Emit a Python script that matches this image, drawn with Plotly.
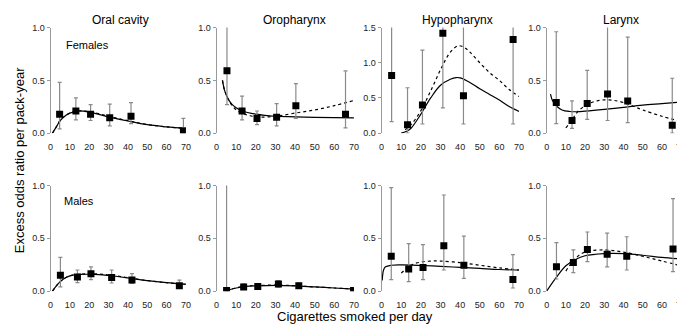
import plotly.graph_objects as go

W, H = 685, 324
sites = ["Oral cavity", "Oropharynx", "Hypopharynx", "Larynx"]
x_ticks = [0, 10, 20, 30, 40, 50, 60, 70]

# ---------------- Females ----------------
oral_f_x = [4.7, 13.1, 20.7, 30.6, 41.6, 68.7]
oral_f_y = [0.18, 0.21, 0.18, 0.145, 0.16, 0.02]
oral_f_lo = [0.04, 0.125, 0.12, 0.07, 0.09, 0.0]
oral_f_hi = [0.48, 0.335, 0.27, 0.275, 0.29, 0.14]
oral_f_fit_x = [1, 3, 5, 8, 10, 14, 20, 30, 40, 50, 60, 70]
oral_f_fit_y = [0.0, 0.06, 0.12, 0.17, 0.19, 0.21, 0.2, 0.155, 0.115, 0.08, 0.06, 0.045]
oral_f_alt_x = [1, 3, 5, 8, 10, 14, 20, 30, 40, 50, 60, 70]
oral_f_alt_y = [0.0, 0.06, 0.12, 0.17, 0.19, 0.21, 0.205, 0.16, 0.118, 0.082, 0.06, 0.045]

oro_f_x = [5.3, 13.0, 20.6, 30.6, 40.4, 65.7]
oro_f_y = [0.59, 0.21, 0.14, 0.15, 0.26, 0.18]
oro_f_lo = [0.27, 0.125, 0.08, 0.07, 0.14, 0.05]
oro_f_hi = [1.2, 0.35, 0.21, 0.28, 0.47, 0.59]
oro_f_fit_x = [3, 4, 5, 6, 8, 10, 13, 20, 30, 40, 50, 60, 70]
oro_f_fit_y = [0.5, 0.41, 0.36, 0.32, 0.27, 0.24, 0.21, 0.18, 0.16, 0.155, 0.15, 0.147, 0.145]
oro_f_alt_x = [3, 4, 5, 6, 8, 10, 13, 17, 22, 30, 40, 50, 60, 70]
oro_f_alt_y = [0.5, 0.41, 0.36, 0.32, 0.26, 0.22, 0.19, 0.165, 0.152, 0.16, 0.19, 0.22, 0.26, 0.31]

hypo_f_x = [5.1, 13.2, 20.8, 31.2, 41.7, 67.0]
hypo_f_y = [0.82, 0.12, 0.40, 1.42, 0.53, 1.33]
hypo_f_lo = [0.165, 0.0, 0.13, 0.36, 0.13, 0.13]
hypo_f_hi = [1.7, 0.645, 1.18, 1.7, 1.7, 1.7]
hypo_f_fit_x = [10, 13, 15, 20, 25, 30, 35, 38, 40, 45, 50, 55, 60, 65, 70]
hypo_f_fit_y = [0.0, 0.03, 0.07, 0.27, 0.5, 0.68, 0.765, 0.79, 0.785, 0.72, 0.63, 0.55, 0.47, 0.38, 0.31]
hypo_f_alt_x = [12, 15, 20, 25, 30, 35, 39, 42, 45, 50, 55, 60, 65, 70]
hypo_f_alt_y = [0.05, 0.12, 0.32, 0.6, 0.9, 1.15, 1.24, 1.22, 1.15, 1.0, 0.86, 0.75, 0.62, 0.52]

lar_f_x = [5.0, 13.2, 21.1, 31.7, 42.2, 65.4]
lar_f_y = [0.29, 0.12, 0.28, 0.37, 0.305, 0.075]
lar_f_lo = [0.09, 0.045, 0.13, 0.12, 0.10, 0.0]
lar_f_hi = [0.96, 0.305, 0.595, 1.2, 0.91, 0.52]
lar_f_fit_x = [2, 3, 5, 8, 12, 16, 20, 30, 40, 50, 60, 70]
lar_f_fit_y = [0.37, 0.31, 0.26, 0.22, 0.205, 0.203, 0.208, 0.225, 0.245, 0.265, 0.28, 0.295]
lar_f_alt_x = [10, 13, 16, 20, 25, 30, 35, 40, 45, 50, 60, 70]
lar_f_alt_y = [0.05, 0.12, 0.2, 0.26, 0.3, 0.315, 0.31, 0.29, 0.255, 0.22, 0.16, 0.11]

# ---------------- Males ----------------
oral_m_x = [5.1, 13.9, 20.9, 31.6, 42.1, 66.6]
oral_m_y = [0.15, 0.135, 0.165, 0.13, 0.105, 0.052]
oral_m_lo = [0.04, 0.08, 0.11, 0.077, 0.074, 0.03]
oral_m_hi = [0.32, 0.2, 0.23, 0.2, 0.166, 0.105]
oral_m_fit_x = [1, 3, 5, 8, 10, 15, 20, 25, 30, 40, 50, 60, 70]
oral_m_fit_y = [0.0, 0.05, 0.09, 0.13, 0.145, 0.158, 0.16, 0.157, 0.148, 0.125, 0.1, 0.08, 0.065]
oral_m_alt_x = [1, 3, 5, 8, 10, 15, 20, 25, 30, 40, 50, 60, 70]
oral_m_alt_y = [0.0, 0.05, 0.09, 0.13, 0.145, 0.16, 0.165, 0.162, 0.153, 0.128, 0.1, 0.08, 0.065]

oro_m_x = [5.1, 13.8, 21.0, 31.5, 41.9, 69.8]
oro_m_y = [0.005, 0.04, 0.045, 0.068, 0.052, 0.006]
oro_m_lo = [0.0, 0.02, 0.03, 0.037, 0.03, 0.0]
oro_m_hi = [1.2, 0.07, 0.06, 0.1, 0.077, 0.01]
oro_m_fit_x = [5, 10, 15, 20, 30, 40, 50, 60, 70]
oro_m_fit_y = [0.005, 0.03, 0.045, 0.05, 0.055, 0.05, 0.04, 0.03, 0.02]
oro_m_alt_x = [5, 10, 15, 20, 30, 40, 50, 60, 70]
oro_m_alt_y = [0.005, 0.032, 0.047, 0.052, 0.057, 0.051, 0.04, 0.03, 0.02]

hypo_m_x = [4.9, 13.8, 21.1, 31.7, 41.9, 66.9]
hypo_m_y = [0.33, 0.21, 0.225, 0.43, 0.245, 0.11]
hypo_m_lo = [0.11, 0.09, 0.11, 0.2, 0.12, 0.03]
hypo_m_hi = [0.98, 0.45, 0.44, 0.91, 0.52, 0.345]
hypo_m_fit_x = [0.3, 1, 2, 5, 10, 20, 30, 40, 50, 60, 70]
hypo_m_fit_y = [0.1, 0.2, 0.23, 0.245, 0.248, 0.243, 0.235, 0.225, 0.215, 0.205, 0.2]
hypo_m_alt_x = [10, 13, 16, 20, 25, 30, 40, 50, 60, 70]
hypo_m_alt_y = [0.17, 0.22, 0.255, 0.275, 0.285, 0.285, 0.27, 0.245, 0.22, 0.2]

lar_m_x = [5.1, 13.9, 21.2, 31.5, 41.7, 65.8]
lar_m_y = [0.23, 0.27, 0.395, 0.35, 0.33, 0.40]
lar_m_lo = [0.115, 0.175, 0.28, 0.23, 0.2, 0.185]
lar_m_hi = [0.46, 0.39, 0.56, 0.55, 0.515, 0.875]
lar_m_fit_x = [0, 5, 10, 15, 20, 30, 40, 50, 60, 70]
lar_m_fit_y = [0.0, 0.13, 0.24, 0.3, 0.335, 0.355, 0.355, 0.34, 0.32, 0.305]
lar_m_alt_x = [10, 15, 20, 30, 40, 50, 60, 70]
lar_m_alt_y = [0.19, 0.31, 0.37, 0.39, 0.37, 0.33, 0.285, 0.24]

panels = [
    (0, 0, oral_f_x, oral_f_y, oral_f_lo, oral_f_hi, oral_f_fit_x, oral_f_fit_y, oral_f_alt_x, oral_f_alt_y),
    (0, 1, oro_f_x, oro_f_y, oro_f_lo, oro_f_hi, oro_f_fit_x, oro_f_fit_y, oro_f_alt_x, oro_f_alt_y),
    (0, 2, hypo_f_x, hypo_f_y, hypo_f_lo, hypo_f_hi, hypo_f_fit_x, hypo_f_fit_y, hypo_f_alt_x, hypo_f_alt_y),
    (0, 3, lar_f_x, lar_f_y, lar_f_lo, lar_f_hi, lar_f_fit_x, lar_f_fit_y, lar_f_alt_x, lar_f_alt_y),
    (1, 0, oral_m_x, oral_m_y, oral_m_lo, oral_m_hi, oral_m_fit_x, oral_m_fit_y, oral_m_alt_x, oral_m_alt_y),
    (1, 1, oro_m_x, oro_m_y, oro_m_lo, oro_m_hi, oro_m_fit_x, oro_m_fit_y, oro_m_alt_x, oro_m_alt_y),
    (1, 2, hypo_m_x, hypo_m_y, hypo_m_lo, hypo_m_hi, hypo_m_fit_x, hypo_m_fit_y, hypo_m_alt_x, hypo_m_alt_y),
    (1, 3, lar_m_x, lar_m_y, lar_m_lo, lar_m_hi, lar_m_fit_x, lar_m_fit_y, lar_m_alt_x, lar_m_alt_y),
]

# pixel layout
col_px = [(40, 177), (208, 347), (375, 514), (542, 678)]
row_px = [(15, 124), (178, 287)]

FONT = "Liberation Sans, Arial, sans-serif"
fig = go.Figure()
layout = {}

for (r, c, px, py, lo, hi, fx, fy, ax, ay) in panels:
    idx = r * 4 + c + 1
    xa = "x" if idx == 1 else f"x{idx}"
    ya = "y" if idx == 1 else f"y{idx}"
    fig.add_trace(go.Scatter(x=ax, y=ay, mode="lines", line=dict(color="black", width=1.2, dash="3px,3px", shape="spline"),
                             xaxis=xa, yaxis=ya, showlegend=False, hoverinfo="skip"))
    fig.add_trace(go.Scatter(x=fx, y=fy, mode="lines", line=dict(color="black", width=1.2, shape="spline"),
                             xaxis=xa, yaxis=ya, showlegend=False, hoverinfo="skip"))
    fig.add_trace(go.Scatter(
        x=px, y=py, mode="markers",
        marker=dict(symbol="square", size=7, color="black"),
        error_y=dict(type="data", symmetric=False,
                     array=[h - v for h, v in zip(hi, py)],
                     arrayminus=[v - l for v, l in zip(py, lo)],
                     color="#8a8a8a", thickness=1.2, width=2),
        xaxis=xa, yaxis=ya, showlegend=False))
    x0, x1 = col_px[c]
    y0, y1 = row_px[r]
    ymax = 1.5 if (r == 0 and c == 2) else 1.0
    layout["xaxis" if idx == 1 else f"xaxis{idx}"] = dict(
        domain=[x0 / W, x1 / W], anchor=ya, range=[0, 70], tickvals=x_ticks,
        showline=False, showgrid=False, zeroline=False, ticks="outside", ticklen=5,
        tickcolor="rgba(0,0,0,0)", tickfont=dict(size=9, color="#222", family=FONT))
    layout["yaxis" if idx == 1 else f"yaxis{idx}"] = dict(
        domain=[1 - y1 / H, 1 - y0 / H], anchor=xa, range=[0, ymax], dtick=0.5, tickformat=".1f",
        showline=True, linecolor="#9a9a9a", linewidth=1, showgrid=False, zeroline=False,
        ticks="outside", ticklen=3, tickcolor="#9a9a9a",
        tickfont=dict(size=9, color="#222", family=FONT))

annotations = []
title_x = [111, 287, 452, 617]
for name, tx in zip(sites, title_x):
    annotations.append(dict(text=name, x=tx / W, y=1 - 7 / H, xref="paper", yref="paper",
                            xanchor="center", yanchor="middle",
                            showarrow=False, font=dict(size=12, color="black", family=FONT)))
annotations.append(dict(text="Females", x=77 / W, y=1 - 33 / H, xref="paper", yref="paper",
                        xanchor="center", yanchor="middle",
                        showarrow=False, font=dict(size=11, color="black", family=FONT)))
annotations.append(dict(text="Males", x=69 / W, y=1 - 194 / H, xref="paper", yref="paper",
                        xanchor="center", yanchor="middle",
                        showarrow=False, font=dict(size=11, color="black", family=FONT)))
annotations.append(dict(text="Cigarettes smoked per day", x=348 / W, y=1 - 313 / H, xref="paper", yref="paper",
                        xanchor="center", yanchor="middle",
                        showarrow=False, font=dict(size=13, color="black", family=FONT)))
annotations.append(dict(text="Excess odds ratio per pack-year", x=8 / W, y=1 - 152 / H, xref="paper", yref="paper",
                        xanchor="center", yanchor="middle",
                        textangle=-90, showarrow=False, font=dict(size=13, color="black", family=FONT)))

fig.update_layout(width=W, height=H, margin=dict(l=0, r=0, t=0, b=0),
                  paper_bgcolor="white", plot_bgcolor="white",
                  annotations=annotations, **layout)
fig.write_html("out.html")
